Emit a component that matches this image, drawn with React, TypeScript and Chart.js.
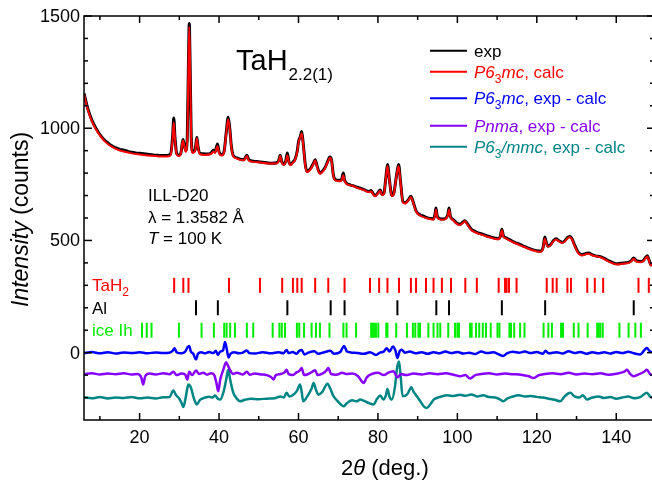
import { useEffect, useRef } from 'react';
import { Chart, registerables } from 'chart.js';
Chart.register(...registerables);

const FONT = 'Arial, "Liberation Sans", Helvetica, sans-serif';

const X_MIN = 6;
const X_MAX = 149;
const Y_MIN = -300;
const Y_MAX = 1500;
const xTickLabels = [20, 40, 60, 80, 100, 120, 140];
const xMinorTicks = [10, 30, 50, 70, 90, 110, 130, 150];
const yTickLabels = [0, 500, 1000, 1500];
const yMinorTicks = [-200, -100, 100, 200, 300, 400, 600, 700, 800, 900, 1100, 1200, 1300, 1400];

// Observed pattern (2θ, counts)
const expPoints: [number, number][] = [
  [6.0, 1155], [7.0, 1085], [8.0, 1035], [9.0, 1000], [10.0, 972], [11.0, 950], [12.0, 935], [13.0, 922],
  [14.0, 912], [15.0, 906], [16.0, 902], [17.0, 897], [18.0, 893], [19.0, 890], [20.0, 888], [21.0, 886],
  [22.0, 884], [23.0, 882], [24.0, 880], [25.0, 879], [26.0, 878], [27.0, 879], [27.8, 885], [28.3, 960],
  [28.6, 1045], [28.9, 960], [29.3, 890], [29.8, 880], [30.4, 890], [30.9, 950], [31.2, 930], [31.6, 900],
  [32.0, 960], [32.3, 1300], [32.5, 1467], [32.7, 1300], [33.0, 960], [33.4, 895], [34.0, 905], [34.4, 960],
  [34.7, 920], [35.2, 888], [36.0, 886], [37.0, 885], [38.0, 890], [38.6, 902], [39.0, 895], [39.6, 930],
  [40.0, 895], [40.7, 882], [41.3, 900], [41.8, 980], [42.3, 1049], [42.7, 1000], [43.1, 920], [43.6, 878],
  [44.5, 868], [45.3, 862], [46.3, 860], [47.0, 880], [47.5, 860], [48.6, 853], [50.0, 851], [51.0, 848],
  [52.0, 846], [53.3, 844], [54.5, 846], [55.0, 855], [55.4, 880], [55.8, 850], [56.3, 840], [56.8, 855],
  [57.2, 890], [57.6, 850], [58.0, 838], [58.6, 850], [59.1, 860], [59.7, 900], [60.0, 940], [60.5, 965],
  [60.8, 985], [61.2, 930], [61.7, 840], [62.1, 808], [62.6, 812], [63.2, 825], [63.8, 845], [64.2, 860],
  [64.7, 830], [65.4, 800], [66.0, 808], [66.7, 825], [67.3, 850], [67.9, 872], [68.3, 860], [68.8, 790],
  [69.2, 772], [70.0, 768], [70.8, 770], [71.3, 800], [71.6, 770], [72.1, 755], [73.0, 748], [74.0, 742],
  [75.0, 736], [76.0, 730], [77.0, 722], [77.8, 718], [78.3, 722], [78.8, 708], [79.3, 700], [80.0, 712],
  [80.6, 725], [81.0, 705], [81.5, 710], [82.0, 780], [82.4, 838], [82.9, 770], [83.5, 700], [84.0, 710],
  [84.6, 780], [85.2, 838], [85.7, 760], [86.3, 672], [86.9, 668], [87.6, 680], [88.3, 697], [88.9, 670],
  [89.6, 632], [90.6, 614], [91.5, 608], [92.3, 602], [93.2, 598], [94.0, 596], [94.4, 620], [94.6, 645],
  [94.9, 610], [95.5, 598], [96.1, 595], [97.0, 598], [97.6, 615], [97.9, 645], [98.2, 610], [99.0, 592],
  [99.8, 578], [100.7, 572], [101.4, 582], [101.9, 588], [102.5, 575], [103.6, 548], [104.5, 540], [105.5, 532],
  [106.6, 526], [107.5, 520], [108.5, 515], [109.5, 510], [110.2, 508], [110.8, 518], [111.2, 550], [111.6, 520],
  [112.0, 514], [113.0, 505], [114.0, 495], [114.9, 488], [116.0, 480], [117.0, 472], [118.0, 465], [119.1, 458],
  [120.0, 454], [120.9, 452], [121.6, 470], [122.0, 515], [122.4, 490], [122.8, 475], [123.4, 480], [124.2, 500],
  [124.9, 507], [125.5, 500], [126.3, 492], [126.9, 496], [127.6, 510], [128.2, 518], [128.8, 510], [129.5, 480],
  [130.4, 448], [131.4, 436], [132.2, 441], [133.0, 444], [134.0, 436], [135.0, 430], [136.0, 428], [137.0, 420],
  [138.0, 410], [139.0, 402], [140.2, 396], [141.0, 398], [142.0, 400], [143.0, 402], [143.8, 410], [144.4, 422],
  [145.0, 410], [146.1, 406], [146.8, 410], [147.4, 425], [147.8, 432], [148.2, 415], [148.7, 392], [149.0, 390],
];

// P6_3mc calculated pattern
const calcPoints: [number, number][] = [
  [6, 1150], [7, 1080], [8, 1030], [9, 995], [10, 968], [11, 946], [12, 930], [13, 918], [14, 908], [15, 901],
  [16, 896], [18, 888], [20, 883], [22, 879], [24, 876], [26, 874], [27.5, 875], [27.9, 885], [28.3, 950],
  [28.6, 1025], [28.9, 950], [29.3, 885], [29.8, 876], [30.4, 888], [30.9, 945], [31.2, 925], [31.6, 895],
  [32.0, 950], [32.3, 1290], [32.5, 1452], [32.7, 1290], [33.0, 950], [33.4, 890], [34.0, 900], [34.4, 955],
  [34.7, 915], [35.2, 884], [36.5, 881], [38.0, 885], [38.6, 895], [39.0, 890], [39.6, 920], [40.0, 890],
  [40.7, 878], [41.3, 895], [41.8, 975], [42.3, 1040], [42.7, 995], [43.1, 915], [43.6, 874], [44.5, 865],
  [45.3, 859], [46.3, 857], [47.0, 876], [47.5, 857], [48.6, 850], [50.5, 847], [52.5, 843], [54.5, 843],
  [55.0, 852], [55.4, 876], [55.8, 847], [56.3, 837], [56.8, 850], [57.2, 880], [57.6, 847], [58.0, 835],
  [58.6, 847], [59.1, 857], [59.7, 895], [60.0, 935], [60.5, 962], [60.8, 978], [61.2, 925], [61.7, 836],
  [62.1, 805], [62.6, 808], [63.2, 822], [63.8, 842], [64.2, 856], [64.7, 826], [65.4, 797], [66.0, 805],
  [66.7, 822], [67.3, 846], [67.9, 868], [68.3, 856], [68.8, 787], [69.2, 768], [70.0, 764], [70.8, 766],
  [71.3, 790], [71.6, 766], [72.1, 752], [73.5, 744], [75.0, 733], [76.5, 724], [77.8, 715], [78.3, 719],
  [78.8, 705], [79.3, 697], [80.0, 709], [80.6, 721], [81.0, 702], [81.5, 707], [82.0, 775], [82.4, 832],
  [82.9, 766], [83.5, 697], [84.0, 707], [84.6, 776], [85.2, 832], [85.7, 756], [86.3, 668], [86.9, 665],
  [87.6, 677], [88.3, 694], [88.9, 667], [89.6, 629], [90.6, 611], [92.3, 599], [94.0, 593], [94.4, 615],
  [94.6, 638], [94.9, 606], [95.5, 595], [96.1, 592], [97.0, 595], [97.6, 612], [97.9, 638], [98.2, 607],
  [99.0, 589], [99.8, 575], [100.7, 569], [101.4, 579], [101.9, 585], [102.5, 572], [103.6, 545], [105.5, 529],
  [107.5, 517], [109.5, 507], [110.2, 505], [110.8, 515], [111.2, 545], [111.6, 516], [112.0, 511], [114.0, 492],
  [116.0, 477], [118.0, 462], [120.0, 451], [120.9, 449], [121.6, 466], [122.0, 508], [122.4, 486], [122.8, 472],
  [123.4, 477], [124.2, 497], [124.9, 504], [125.5, 497], [126.3, 489], [126.9, 493], [127.6, 507], [128.2, 514],
  [128.8, 507], [129.5, 477], [130.4, 445], [131.4, 433], [132.2, 438], [133.0, 441], [134.0, 433], [136.0, 425],
  [138.0, 407], [140.2, 393], [142.0, 397], [143.0, 399], [143.8, 407], [144.4, 418], [145.0, 407], [146.1, 403],
  [146.8, 407], [147.4, 421], [147.8, 428], [148.2, 412], [148.7, 390], [149.0, 388],
];

// Difference curves (offset in the plot)
const diffP63mc: [number, number][] = [
  [6, -2], [8, 3], [10, -3], [12, 2], [14, -4], [16, 1], [18, -2], [20, 2], [22, -3], [24, 1], [26, -2],
  [27.5, 0], [28.3, 8], [28.8, 20], [29.3, 2], [30.5, -3], [31.5, 5], [32.1, 25], [32.5, 30], [32.9, 5],
  [33.5, -5], [34.2, -30], [34.7, -5], [35.5, 2], [36.5, -3], [37.5, 3], [38.5, -2], [39.2, 8], [39.7, -10],
  [40.3, 5], [41, 10], [41.5, 48], [41.9, 20], [42.4, -22], [42.9, -5], [43.8, 2], [45, -3], [46, 0], [47, 10],
  [47.6, -2], [49, -4], [51, 2], [53, -3], [55, 2], [56.2, -3], [57, 12], [57.5, -2], [58.5, 3], [59.5, -5],
  [60.2, 8], [60.8, 12], [61.5, -8], [62.5, 0], [64, 6], [65, -5], [66.5, 2], [68, 8], [69, -5], [70.5, 3],
  [71.5, 30], [72.2, 5], [73.5, 0], [75, -2], [76.5, -5], [78, 2], [79.5, -10], [80.5, 0], [81.5, 5],
  [82.2, 20], [82.9, 5], [83.8, 28], [84.4, 10], [84.9, -24], [85.5, 8], [86, 13], [86.8, 0], [88, 5],
  [89.5, -3], [91, 2], [92.5, -5], [94, 2], [95.5, -3], [97, 5], [98.5, -2], [100, 3], [101.5, -4], [103, 0],
  [104.5, -6], [106, 5], [107.5, -2], [109, 2], [110.5, -8], [111.5, -15], [112.5, -3], [114, 4], [115.5, 0],
  [117, 5], [118.5, -2], [120, 3], [121.5, -5], [122.2, 8], [123, -3], [125, 2], [126.5, -4], [128, 6],
  [129.5, -2], [131, 3], [132.5, -5], [134, 2], [135.5, -3], [137, 2], [138.5, -4], [140, 3], [141.5, -2],
  [143, 4], [144.5, -3], [146, -8], [147.7, 21], [148.5, 5], [149, 3],
];

const diffPnma: [number, number][] = [
  [6, -95], [8, -92], [10, -97], [12, -93], [14, -96], [16, -92], [18, -97], [19.5, -95], [20.4, -110],
  [20.9, -142], [21.4, -105], [22.5, -93], [24, -97], [26, -92], [27.5, -96], [28.5, -85], [29.3, -100],
  [30.5, -93], [31.5, -98], [32.0, -120], [32.5, -85], [33.2, -100], [34.2, -80], [35, -95], [36, -90],
  [37, -98], [38, -92], [38.8, -100], [39.4, -140], [39.8, -172], [40.3, -120], [41.0, -80], [41.8, -43],
  [42.3, -60], [42.8, -78], [43.5, -95], [44.5, -90], [46, -97], [47, -85], [47.7, -98], [49, -93],
  [50.5, -97], [52, -100], [53.2, -110], [53.7, -120], [54.3, -100], [55.5, -95], [56.5, -88], [57, -76],
  [57.5, -95], [58.5, -100], [59.5, -88], [60.3, -80], [60.8, -68], [61.4, -100], [62.5, -95], [63.5, -85],
  [64.2, -78], [64.8, -100], [66, -93], [67, -80], [67.5, -68], [68.2, -95], [69.5, -98], [71, -90],
  [72, -95], [73.5, -93], [75, -105], [75.8, -125], [76.4, -135], [77.2, -110], [78.5, -95], [80, -90],
  [81.5, -100], [82.5, -90], [83.9, -83], [84.9, -110], [85.8, -95], [87, -100], [89, -93], [91, -97],
  [93, -92], [95, -96], [97, -92], [99, -98], [100.7, -105], [102, -100], [103.2, -115], [104.5, -100],
  [106, -95], [108, -92], [110, -97], [112, -93], [114, -96], [116, -98], [118, -105], [119.2, -113],
  [120.5, -100], [122, -95], [124, -92], [126, -96], [128, -90], [130, -97], [132, -93], [134, -96],
  [136, -92], [138, -98], [140, -94], [142, -85], [142.7, -76], [143.5, -95], [144.3, -105], [145.5, -98],
  [147, -85], [147.7, -76], [148.5, -95], [149, -100],
];

const diffP63mmc: [number, number][] = [
  [6, -200], [8, -203], [10, -198], [12, -204], [14, -200], [16, -202], [18, -198], [20, -203], [22, -200],
  [24, -204], [26, -199], [27.5, -198], [28.5, -169], [29.2, -190], [30, -205], [30.6, -225], [31.0, -242],
  [31.5, -210], [32.0, -160], [32.3, -142], [32.9, -155], [33.6, -200], [34.4, -231], [35.2, -210],
  [36.5, -200], [37.5, -196], [38.3, -200], [39.0, -191], [39.7, -205], [40.3, -209], [41.2, -170],
  [41.8, -120], [42.3, -76], [42.8, -120], [43.6, -179], [44.5, -205], [45.3, -217], [46.5, -210],
  [48, -205], [50, -207], [52, -205], [54, -203], [55.5, -195], [56.3, -200], [57, -179], [57.7, -195],
  [58.7, -187], [59.6, -170], [60.4, -142], [60.8, -175], [61.2, -217], [62.2, -195], [63.3, -160],
  [63.8, -135], [64.4, -165], [65.0, -187], [66, -175], [67.3, -138], [68, -160], [68.8, -194], [69.8, -215],
  [70.6, -230], [71.3, -239], [72.2, -225], [73.5, -212], [74.7, -217], [75.5, -209], [76.5, -215],
  [77.8, -225], [78.9, -231], [79.8, -205], [80.6, -191], [81.4, -209], [82.0, -190], [82.4, -162],
  [82.9, -195], [83.5, -209], [84.3, -150], [84.8, -70], [85.3, -39], [85.7, -100], [86.2, -194],
  [87.3, -187], [88.0, -165], [88.4, -154], [89.0, -175], [89.8, -194], [90.8, -220], [91.6, -240],
  [92.3, -246], [93.2, -230], [94.0, -210], [94.8, -202], [96, -195], [97.5, -190], [99, -193],
  [100.7, -187], [102, -192], [103.5, -186], [105, -195], [106.5, -190], [108, -198], [109.5, -200],
  [110.7, -208], [111.6, -217], [112.5, -205], [114, -195], [115.5, -190], [117, -195], [118.5, -193],
  [120, -197], [121.5, -200], [123, -205], [124.5, -210], [125.9, -217], [127, -195], [128.4, -179],
  [129.5, -195], [130.7, -200], [131.6, -190], [132.6, -209], [134, -200], [135.5, -195], [137, -202],
  [138.5, -198], [140, -205], [141.5, -200], [143, -195], [144.5, -203], [146, -198], [147.7, -179],
  [148.5, -195], [149, -200],
];

// Bragg reflection positions (2θ)
const tah2Reflections = [
  28.7, 31.0, 32.3, 42.5, 50.3, 55.9, 58.6, 59.7, 60.8, 64.2, 67.5, 71.6, 78.0, 80.3, 82.4, 85.3, 88.3, 89.6,
  92.1, 94.0, 96.1, 98.4, 102.0, 104.9, 110.4, 112.0, 112.4, 113.0, 114.9, 122.5, 124.0, 125.0, 127.7, 128.6,
  132.7, 134.6, 136.7, 145.6, 148.2,
];
const alReflections = [34.2, 39.7, 57.2, 68.1, 71.6, 84.9, 94.7, 97.9, 111.2, 122.1, 144.4];
const iceReflections = [
  20.6, 21.8, 23.0, 29.9, 35.6, 38.7, 41.3, 41.9, 42.8, 44.0, 47.0, 48.6, 53.5, 55.2, 55.8, 56.6, 59.6, 60.2,
  61.4, 63.3, 64.4, 65.4, 67.8, 71.3, 72.1, 74.5, 78.3, 78.6, 79.0, 79.5, 80.1, 82.1, 82.4, 84.6, 87.3, 88.8,
  89.4, 90.2, 90.6, 92.7, 94.0, 95.0, 95.7, 97.7, 99.4, 100.0, 100.4, 103.2, 103.6, 104.7, 105.5, 106.4, 107.2,
  108.4, 110.1, 110.6, 113.1, 113.5, 114.3, 115.8, 116.9, 121.7, 122.9, 123.8, 126.1, 126.6, 129.3, 130.5,
  132.8, 135.2, 135.6, 136.0, 136.6, 140.8, 143.1, 144.8, 146.2,
];
const reflectionRows = [300, 200, 100]; // TaH2, Al, ice Ih

const C_BLACK = '#000000';
const C_RED = '#ff0000';
const C_BLUE = '#0000ff';
const C_PURPLE = '#8800ff';
const C_TEAL = '#008585';
const C_GREEN = '#00ee00';

type Run = { t: string; it?: boolean; sub?: boolean };

function drawRuns(ctx: CanvasRenderingContext2D, runs: Run[], x: number, y: number, size: number, color: string) {
  let cx = x;
  ctx.fillStyle = color;
  ctx.textAlign = 'left';
  for (const r of runs) {
    const fs = r.sub ? Math.round(size * 0.68) : size;
    ctx.font = `${r.it ? 'italic ' : ''}${fs}px ${FONT}`;
    ctx.fillText(r.t, cx, y + (r.sub ? size * 0.3 : 0));
    cx += ctx.measureText(r.t).width;
  }
  return cx - x;
}

function runsWidth(ctx: CanvasRenderingContext2D, runs: Run[], size: number) {
  let w = 0;
  for (const r of runs) {
    const fs = r.sub ? Math.round(size * 0.68) : size;
    ctx.font = `${r.it ? 'italic ' : ''}${fs}px ${FONT}`;
    w += ctx.measureText(r.t).width;
  }
  return w;
}

const decorPlugin = {
  id: 'decor',
  afterDatasetsDraw(chart: any) {
    const ctx: CanvasRenderingContext2D = chart.ctx;
    const { left, right, top, bottom } = chart.chartArea;
    const xs = chart.scales.x;
    const ys = chart.scales.y;
    ctx.save();
    ctx.strokeStyle = '#000';
    ctx.lineWidth = 1.5;
    // frame: left, top, bottom (right edge lies at the picture border)
    ctx.beginPath();
    ctx.moveTo(right + 2, top);
    ctx.lineTo(left, top);
    ctx.lineTo(left, bottom);
    ctx.lineTo(right + 2, bottom);
    ctx.stroke();

    const tick = (x1: number, y1: number, x2: number, y2: number) => {
      ctx.beginPath();
      ctx.moveTo(x1, y1);
      ctx.lineTo(x2, y2);
      ctx.stroke();
    };
    for (const v of xTickLabels) {
      const px = xs.getPixelForValue(v);
      tick(px, bottom, px, bottom - 7);
      tick(px, top, px, top + 7);
    }
    for (const v of xMinorTicks) {
      if (v < X_MIN || v > X_MAX) continue;
      const px = xs.getPixelForValue(v);
      tick(px, bottom, px, bottom - 4);
      tick(px, top, px, top + 4);
    }
    for (const v of yTickLabels) {
      const py = ys.getPixelForValue(v);
      tick(left, py, left + 8, py);
      tick(right + 2, py, right - 5, py);
    }
    for (const v of yMinorTicks) {
      const py = ys.getPixelForValue(v);
      tick(left, py, left + 4, py);
      tick(right + 2, py, right - 2, py);
    }

    // tick labels
    ctx.fillStyle = '#000';
    ctx.font = `18px ${FONT}`;
    ctx.textAlign = 'center';
    ctx.textBaseline = 'alphabetic';
    for (const v of xTickLabels) {
      ctx.fillText(String(v), xs.getPixelForValue(v), bottom + 23);
    }
    ctx.textAlign = 'right';
    ctx.textBaseline = 'middle';
    for (const v of yTickLabels) {
      ctx.fillText(String(v), left - 4, ys.getPixelForValue(v) + 1);
    }

    // axis titles
    ctx.textBaseline = 'alphabetic';
    const xTitle: Run[] = [{ t: '2' }, { t: 'θ', it: true }, { t: ' (deg.)' }];
    drawRuns(ctx, xTitle, 341, 475, 22, '#000');

    ctx.save();
    ctx.translate(28, 307);
    ctx.rotate(-Math.PI / 2);
    drawRuns(ctx, [{ t: 'Intensity', it: true }, { t: ' (counts)' }], 0, 0, 23, '#000');
    ctx.restore();

    // reflection row labels
    const rowLbl = (runs: Run[], v: number, color: string) => {
      drawRuns(ctx, runs, 92, ys.getPixelForValue(v) + 6, 17, color);
    };
    rowLbl([{ t: 'TaH' }, { t: '2', sub: true }], reflectionRows[0], C_RED);
    rowLbl([{ t: 'Al' }], reflectionRows[1], C_BLACK);
    rowLbl([{ t: 'ice Ih' }], reflectionRows[2], C_GREEN);

    // sample annotation
    drawRuns(ctx, [{ t: 'TaH' }], 236, 70, 29, '#000');
    const w1 = runsWidth(ctx, [{ t: 'TaH' }], 29);
    drawRuns(ctx, [{ t: '2.2(1)' }], 237 + w1, 80, 17, '#000');

    drawRuns(ctx, [{ t: 'ILL-D20' }], 148, 201, 17, '#000');
    drawRuns(ctx, [{ t: 'λ = 1.3582 Å' }], 148, 223, 17, '#000');
    drawRuns(ctx, [{ t: 'T', it: true }, { t: ' = 100 K' }], 148, 244, 17, '#000');

    // legend
    const legend: { y: number; color: string; runs: Run[] }[] = [
      { y: 50.7, color: C_BLACK, runs: [{ t: 'exp' }] },
      { y: 71.7, color: C_RED, runs: [{ t: 'P6', it: true }, { t: '3', sub: true }, { t: 'mc', it: true }, { t: ', calc' }] },
      { y: 98.3, color: C_BLUE, runs: [{ t: 'P6', it: true }, { t: '3', sub: true }, { t: 'mc', it: true }, { t: ', exp - calc' }] },
      { y: 125.7, color: C_PURPLE, runs: [{ t: 'Pnma', it: true }, { t: ', exp - calc' }] },
      { y: 146.7, color: C_TEAL, runs: [{ t: 'P6', it: true }, { t: '3', sub: true }, { t: '/mmc', it: true }, { t: ', exp - calc' }] },
    ];
    for (const item of legend) {
      ctx.strokeStyle = item.color;
      ctx.lineWidth = 2;
      tick(430, item.y, 467, item.y);
      drawRuns(ctx, item.runs, 474, item.y + 6, 17, item.color);
    }
    ctx.restore();
  },
};

const toXY = (pts: [number, number][]) => pts.map(([x, y]) => ({ x, y }));
const markers = (pos: number[], level: number) => pos.map((x) => ({ x, y: level }));

export default function App() {
  const ref = useRef<HTMLCanvasElement | null>(null);
  useEffect(() => {
    document.body.style.margin = '0';
    const canvas = ref.current;
    if (!canvas) return;
    const lineDs = (label: string, pts: [number, number][], color: string, width: number, order: number) => ({
      label,
      data: toXY(pts),
      showLine: true,
      borderColor: color,
      backgroundColor: color,
      borderWidth: width,
      pointRadius: 0,
      pointHoverRadius: 0,
      cubicInterpolationMode: 'monotone' as const,
      order,
    });
    const markDs = (label: string, pos: number[], level: number, color: string) => ({
      label,
      data: markers(pos, level),
      showLine: false,
      pointStyle: 'line' as const,
      rotation: 90,
      pointRadius: 7.5,
      pointHoverRadius: 7.5,
      pointBorderWidth: 2,
      borderWidth: 2,
      borderColor: color,
      pointBorderColor: color,
      backgroundColor: color,
      order: 5,
    });
    const chart = new Chart(canvas, {
      type: 'scatter',
      data: {
        datasets: [
          lineDs('exp', expPoints, C_BLACK, 3, 4),
          lineDs('P63mc calc', calcPoints, C_RED, 2, 3),
          lineDs('P63mc diff', diffP63mc, C_BLUE, 2.5, 2),
          lineDs('Pnma diff', diffPnma, C_PURPLE, 2.5, 2),
          lineDs('P63/mmc diff', diffP63mmc, C_TEAL, 2.5, 2),
          markDs('TaH2', tah2Reflections, reflectionRows[0], C_RED),
          markDs('Al', alReflections, reflectionRows[1], C_BLACK),
          markDs('ice Ih', iceReflections, reflectionRows[2], C_GREEN),
        ] as any,
      },
      options: {
        animation: false,
        responsive: false,
        events: [],
        layout: { autoPadding: false, padding: { left: 84, top: 16, right: 0, bottom: 63 } },
        plugins: { legend: { display: false }, tooltip: { enabled: false } },
        scales: {
          x: { type: 'linear', min: X_MIN, max: X_MAX, display: false },
          y: { type: 'linear', min: Y_MIN, max: Y_MAX, display: false },
        },
      },
      plugins: [decorPlugin],
    });
    return () => chart.destroy();
  }, []);
  return (
    <div style={{ width: 652, height: 483, background: '#fff' }}>
      <canvas ref={ref} width={652} height={483} style={{ display: 'block' }} />
    </div>
  );
}
